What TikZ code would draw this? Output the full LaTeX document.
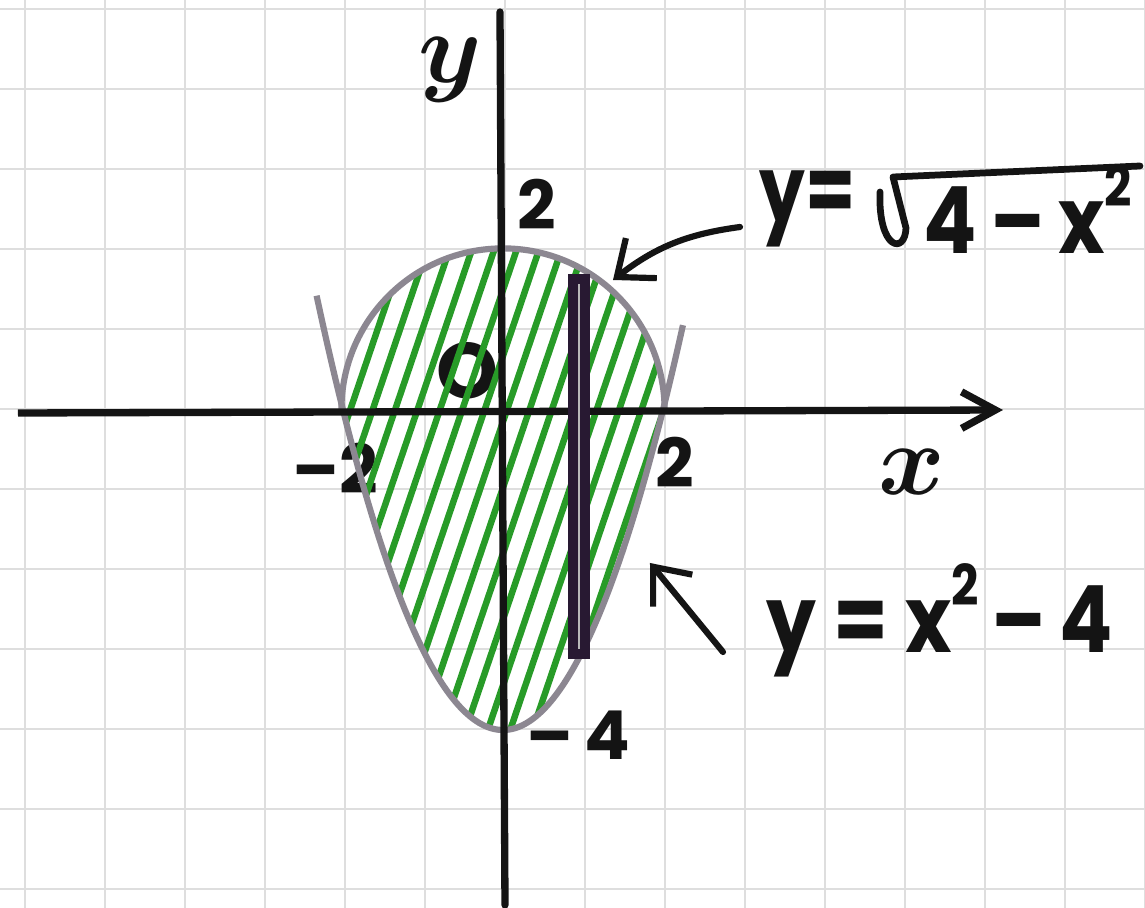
\RequirePackage{fix-cm}
\documentclass[tikz,border=0pt]{standalone}
\usepackage{fontspec}
\setmainfont{Poppins}
\usetikzlibrary{arrows.meta}
\definecolor{hatchc}{RGB}{40,155,40}
\definecolor{curvec}{RGB}{140,135,145}
\definecolor{gridc}{RGB}{222,222,222}
\definecolor{ink}{RGB}{20,20,20}
\definecolor{barc}{RGB}{40,25,50}
\newcommand\supsz{\fontsize{20}{20}\selectfont}
\begin{document}
\begin{tikzpicture}[
  gridline/.style={draw=gridc, line width=0.9pt},
  axisline/.style={draw=ink, line width=2.6pt},
  curveline/.style={draw=curvec, line width=2.2pt},
  hatchline/.style={draw=hatchc, line width=2.3pt, line cap=round},
  pointer/.style={draw=ink, line width=2.2pt, line cap=round, -{Straight Barb[length=11pt,width=18pt]}},
  ink stroke/.style={draw=ink, line width=2.4pt, line cap=round, line join=round},
  ticklbl/.style={font=\fontsize{24}{24}\selectfont\bfseries, text=ink, inner sep=0pt},
  axislbl/.style={font=\fontsize{36}{36}\selectfont\boldmath, text=ink, inner sep=0pt},
  eqlbl/.style={font=\fontsize{33}{33}\selectfont\bfseries, text=ink, inner sep=0pt},
]
\fill[white] (-6.2875,-6.225) rectangle (8.025,5.125);
\useasboundingbox (-6.2875,-6.225) rectangle (8.025,5.125);
\begin{scope}
  \clip (-6.2875,-6.225) rectangle (8.025,5.125);
  \draw[gridline, shift={(0.025,0.0125)}] (-7,-7) grid (9,6);
\end{scope}

% tick labels (under the hatching)
\node[ticklbl] (lm2) at (-2.1,-0.725) {\textendash2};
\node[ticklbl] (lp2) at (2.15,-0.65) {2};
\node[ticklbl, font=\fontsize{28}{28}\selectfont\bfseries] (lO) at (-0.45,0.4875) {O};
\node[ticklbl] (ly2) at (0.425,2.575) {2};
\node[ticklbl] (lm4) at (0.9375,-4.0625) {\textendash\,4};

% hatching
\begin{scope}
  \clip (-2,0) arc[start angle=180,end angle=0,radius=2] -- plot[domain=2:-2, samples=60] (\x,{\x*\x-4}) -- cycle;
  \foreach \c in {-2.75,-2.47,...,2.2}
    \draw[hatchline] ({\c-0.34*4.5},-4.5) -- ({\c+0.34*2.5},2.5);
\end{scope}

% curves
\draw[curveline] (-2.02,0) arc[start angle=180,end angle=0,radius=2.02];
\draw[curveline] plot[domain=-2.33:2.25, samples=80, smooth] (\x,{\x*\x-4});

% axes
\coordinate (xl) at (-6.0625,-0.0375);
\coordinate (xr) at (6.25,0);
\coordinate (yb) at (0.025,-6.1875);
\coordinate (yt) at (-0.0375,4.975);
\draw[axisline, -{Straight Barb[length=12pt,width=13pt]}] (xl) -- (xr);
\draw[axisline, line cap=round] (yb) -- (yt);

% representative strip
\draw[draw=barc, line width=3.5pt, fill=gray!55] (0.87,-3.05) rectangle (1.02,1.64);

% axis labels
\node[axislbl] (ylab) at (-0.6625,4.25) {$y$};
\node[axislbl] (xlab) at (5.1125,-0.775) {$x$};

% equation 1: y = sqrt(4 - x^2)
\node[eqlbl] (eq1a) at (3.8125,2.51) {\scalebox{0.78}[1]{y=}};
\node[eqlbl] (eq1b) at (6.5625,2.51) {\scalebox{0.85}[1]{4\,\textendash\,x\raisebox{0.5em}{\supsz 2}}};
\draw[ink stroke] (4.7125,2.725) .. controls (4.6875,2.0) and (5.025,1.9375) .. (5.0375,2.275)
  -- (4.875,2.9125) -- (7.9625,3.05);

% equation 2: y = x^2 - 4
\node[eqlbl] (eq2) at (5.4625,-2.63) {\scalebox{0.85}[1]{y = x\raisebox{0.5em}{\supsz 2}\,\textendash\,4}};

% pointers
\coordinate (a1s) at (2.9625,2.2875);
\coordinate (a1e) at (1.375,1.625);
\coordinate (a2s) at (2.75,-3.025);
\coordinate (a2e) at (1.8375,-1.9125);
\draw[pointer] (a1s) to[bend right=15] (a1e);
\draw[pointer] (a2s) -- (a2e);
\end{tikzpicture}
\end{document}
